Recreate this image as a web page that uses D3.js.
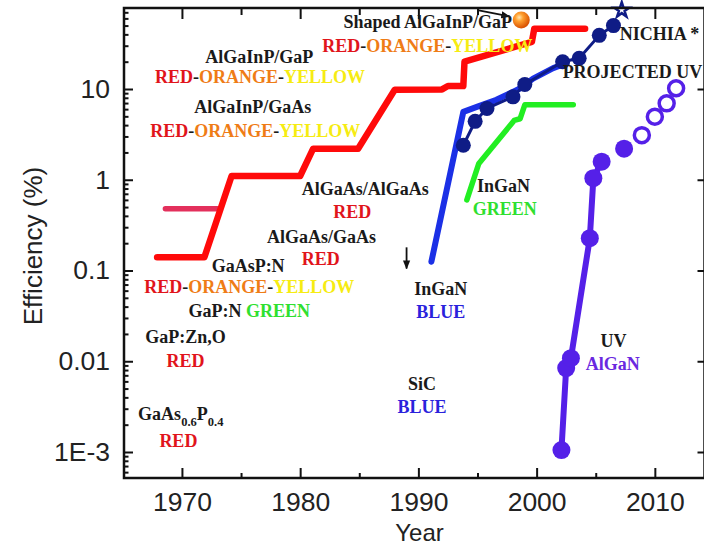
<!DOCTYPE html>
<html><head><meta charset="utf-8">
<script src="https://cdn.jsdelivr.net/npm/d3@7"></script>
<style>
html,body{margin:0;padding:0;background:#fff;}
svg{display:block;}
</style></head>
<body>
<svg id="chart" width="704" height="547"></svg>
<script>
// ---------------- data ----------------
const xTickYears = [1970, 1980, 1990, 2000, 2010];
const xMinorYears = [1975, 1985, 1995, 2005];
const yTickValues = [0.001, 0.01, 0.1, 1, 10];
const yTickLabels = ["1E-3", "0.01", "0.1", "1", "10"];

// AlGaAs / AlGaInP red-orange-yellow envelope
const redYears = [1967.9, 1971.9, 1974.2, 1980.0, 1981.1, 1984.9, 1988.0, 1992.0, 1992.5, 1993.8, 1993.9, 1999.6, 1999.8, 2004.1];
const redEff   = [0.14, 0.14, 1.1, 1.1, 2.2, 2.2, 9.8, 9.9, 10.8, 10.8, 20, 33, 46, 46];
// GaAsP short line
const pinkYears = [1968.6, 1973.0];
const pinkEff   = [0.48, 0.48];
// InGaN blue line
const blueYears = [1991.1, 1993.8, 1995.0, 1996.6, 1998.5, 1999.7, 2001.4, 2002.4];
const blueEff   = [0.125, 5.6, 6.4, 7.6, 10, 13, 17, 19];
// Nichia points
const nichiaYears = [1993.8, 1994.8, 1995.8, 1998.0, 1999.0, 2002.2, 2003.6, 2005.3, 2006.5];
const nichiaEff   = [2.4, 4.4, 6.1, 8.2, 11.2, 20, 21.8, 39, 50];
const nichiaStarYear = [2007.2];
const nichiaStarEff  = [74];
// InGaN green
const greenYears = [1994.1, 1995.1, 1998.1, 1998.6, 1999.0, 2003.1];
const greenEff   = [0.6, 1.5, 4.5, 4.7, 6.7, 6.7];
// UV AlGaN
const uvYears = [2002.1, 2002.5, 2002.9, 2004.5, 2004.8, 2005.5, 2007.4];
const uvEff   = [0.00105, 0.0084, 0.0108, 0.227, 1.04, 1.58, 2.2];
const uvLineCount = 6;
const projYears = [2008.9, 2010.0, 2011.0, 2011.8];
const projEff   = [3.1, 4.95, 6.95, 10.2];
// shaped AlGaInP/GaP point
const shapedYear = [1998.7];
const shapedEff  = [57.6];

// annotation texts: [year, efficiency, parts]
const RED = "#e1141b", ORG = "#ef7c16", YEL = "#f6ec12", GRN = "#2fe02f", BLU = "#2a22dc", PUR = "#6a28e0", BLK = "#1a1a1a";
const labels = [
  [1976.55, 19.3,  [["AlGaInP/GaP", BLK]]],
  [1976.6,  11.6,  [["RED", RED], ["-", BLK], ["ORANGE", ORG], ["-", BLK], ["YELLOW", YEL]]],
  [1976.0,  5.44,  [["AlGaInP/GaAs", BLK]]],
  [1976.2,  2.96,  [["RED", RED], ["-", BLK], ["ORANGE", ORG], ["-", BLK], ["YELLOW", YEL]]],
  [1990.8,  47,    [["Shaped AlGaInP/GaP", BLK]]],
  [1990.76, 25.6,  [["RED", RED], ["-", BLK], ["ORANGE", ORG], ["-", BLK], ["YELLOW", YEL]]],
  [1985.5,  0.679, [["AlGaAs/AlGaAs", BLK]]],
  [1984.4,  0.379, [["RED", RED]]],
  [1981.8,  0.201, [["AlGaAs/GaAs", BLK]]],
  [1981.75, 0.115, [["RED", RED]]],
  [1975.6,  0.0963,[["GaAsP:N", BLK]]],
  [1975.7,  0.0565,[["RED", RED], ["-", BLK], ["ORANGE", ORG], ["-", BLK], ["YELLOW", YEL]]],
  [1975.7,  0.0308,[["GaP:N ", BLK], ["GREEN", GRN]]],
  [1970.3,  0.0159,[["GaP:Zn,O", BLK]]],
  [1970.3,  0.00865,[["RED", RED]]],
  [1969.9,  0.002255,[["GaAs", BLK], ["0.6", BLK, "sub"], ["P", BLK], ["0.4", BLK, "sub"]]],
  [1969.7,  0.001135,[["RED", RED]]],
  [1991.9,  0.0537,[["InGaN", BLK]]],
  [1991.9,  0.030, [["BLUE", BLU]]],
  [1997.2,  0.733, [["InGaN", BLK]]],
  [1997.3,  0.409, [["GREEN", GRN]]],
  [1990.3,  0.00482,[["SiC", BLK]]],
  [1990.3,  0.00269,[["BLUE", BLU]]],
  [2006.5,  0.01435,[["UV", BLK]]],
  [2006.45, 0.00802,[["AlGaN", PUR]]]
];
const startLabels = [
  [2007.04, 34.7, [["NICHIA *", BLK]]],
  [2002.2,  13.2, [["PROJECTED UV", BLK]]]
];
// annotation arrows: [[yearFrom, effFrom],[yearTo, effTo]]
const arrows = [
  [[1995.0, 74], [1997.7, 63]],
  [[1989.0, 0.18], [1989.0, 0.105]]
];

// ---------------- layout ----------------
const svg = d3.select("#chart");
const x = d3.scaleLinear().domain([1965.1, 2014.2]).range([124, 704.5]);
const y = d3.scaleLog().domain([Math.pow(10, -3.2865), Math.pow(10, 1.8926)]).range([478, 8]);
const [x0, x1] = x.range();
const [yb, yt] = y.range();
const zip = (a, b) => a.map((v, i) => [v, b[i]]);
const line = d3.line().x(d => x(d[0])).y(d => y(d[1]));

const defs = svg.append("defs");
const grad = defs.append("radialGradient").attr("id", "ball").attr("cx", "38%").attr("cy", "35%").attr("r", "65%");
grad.append("stop").attr("offset", "0%").attr("stop-color", "#ffe6b0");
grad.append("stop").attr("offset", "35%").attr("stop-color", "#ffa030");
grad.append("stop").attr("offset", "100%").attr("stop-color", "#d85000");
defs.append("marker").attr("id", "ah").attr("viewBox", "0 0 10 10").attr("refX", 9).attr("refY", 5)
  .attr("markerWidth", 9).attr("markerHeight", 9).attr("markerUnits", "userSpaceOnUse").attr("orient", "auto")
  .append("path").attr("d", "M0,1 L10,5 L0,9 Z").attr("fill", "#111");

// ---------------- series ----------------
const plot = svg.append("g");
plot.append("path").datum(zip(pinkYears, pinkEff)).attr("d", line)
  .attr("fill", "none").attr("stroke", "#e3305c").attr("stroke-width", 5.5).attr("stroke-linecap", "round");
plot.append("path").datum(zip(redYears, redEff)).attr("d", line)
  .attr("fill", "none").attr("stroke", "#ff0a0a").attr("stroke-width", 6.5).attr("stroke-linecap", "round").attr("stroke-linejoin", "round");
plot.append("path").datum(zip(greenYears, greenEff)).attr("d", line)
  .attr("fill", "none").attr("stroke", "#22ee22").attr("stroke-width", 5.5).attr("stroke-linecap", "round").attr("stroke-linejoin", "round");
plot.append("path").datum(zip(blueYears, blueEff)).attr("d", line)
  .attr("fill", "none").attr("stroke", "#1b30e6").attr("stroke-width", 6).attr("stroke-linecap", "round").attr("stroke-linejoin", "round");
plot.append("path").datum(zip(nichiaYears, nichiaEff)).attr("d", line)
  .attr("fill", "none").attr("stroke", "#0f1c86").attr("stroke-width", 3).attr("stroke-linejoin", "round");
plot.selectAll(".nichia").data(zip(nichiaYears, nichiaEff)).join("circle")
  .attr("cx", d => x(d[0])).attr("cy", d => y(d[1])).attr("r", 7.5).attr("fill", "#0f1c86");
plot.selectAll(".star").data(zip(nichiaStarYear, nichiaStarEff)).join("path")
  .attr("transform", d => `translate(${x(d[0])},${y(d[1])})`)
  .attr("d", d3.symbol(d3.symbolStar, 70)).attr("fill", "#fff").attr("stroke", "#0f1c86").attr("stroke-width", 2.5);

plot.append("path").datum(zip(uvYears, uvEff).slice(0, uvLineCount)).attr("d", line)
  .attr("fill", "none").attr("stroke", "#5520e8").attr("stroke-width", 6).attr("stroke-linejoin", "round");
plot.selectAll(".uv").data(zip(uvYears, uvEff)).join("circle")
  .attr("cx", d => x(d[0])).attr("cy", d => y(d[1])).attr("r", 9).attr("fill", "#5520e8");
plot.selectAll(".proj").data(zip(projYears, projEff)).join("circle")
  .attr("cx", d => x(d[0])).attr("cy", d => y(d[1])).attr("r", 7.5).attr("fill", "#fff")
  .attr("stroke", "#5520e8").attr("stroke-width", 3.5);

plot.selectAll(".ball").data(zip(shapedYear, shapedEff)).join("circle")
  .attr("cx", d => x(d[0])).attr("cy", d => y(d[1])).attr("r", 8.5).attr("fill", "url(#ball)");

plot.selectAll(".arrow").data(arrows).join("line")
  .attr("x1", d => x(d[0][0])).attr("y1", d => y(d[0][1]))
  .attr("x2", d => x(d[1][0])).attr("y2", d => y(d[1][1]))
  .attr("stroke", "#111").attr("stroke-width", 1.8).attr("marker-end", "url(#ah)");

// ---------------- axes (drawn over the marks, like the frame) ----------------
const fontAxis = "'Liberation Sans', Arial, sans-serif";
function styleAxis(g) {
  g.select(".domain").remove();
  g.selectAll(".tick line").attr("stroke", "#111").attr("stroke-width", 2);
  g.selectAll(".tick text").attr("font-family", fontAxis).attr("font-size", 26.5).attr("fill", "#222");
}
svg.append("g").attr("transform", `translate(0,${yb})`)
  .call(d3.axisBottom(x).tickValues(xTickYears).tickFormat(d3.format("d")).tickSize(-10).tickPadding(14)).call(styleAxis);
svg.append("g").attr("transform", `translate(0,${yb})`)
  .call(d3.axisBottom(x).tickValues(xMinorYears).tickFormat("").tickSize(-5)).call(styleAxis);
svg.append("g").attr("transform", `translate(0,${yt})`)
  .call(d3.axisTop(x).tickValues(xTickYears).tickFormat("").tickSize(-11)).call(styleAxis);
svg.append("g").attr("transform", `translate(0,${yt})`)
  .call(d3.axisTop(x).tickValues(xMinorYears).tickFormat("").tickSize(-7)).call(styleAxis);

const yMinor = [];
for (let k = -4; k <= 1; k++) for (let m = 2; m <= 9; m++) {
  const v = m * Math.pow(10, k);
  if (v > y.domain()[0] && v < y.domain()[1]) yMinor.push(v);
}
svg.append("g").attr("transform", `translate(${x0},0)`)
  .call(d3.axisLeft(y).tickValues(yTickValues).tickFormat((d, i) => yTickLabels[i]).tickSize(-9).tickPadding(14)).call(styleAxis);
svg.append("g").attr("transform", `translate(${x0},0)`)
  .call(d3.axisLeft(y).tickValues(yMinor).tickFormat("").tickSize(-4.5)).call(styleAxis);
svg.append("g").attr("transform", `translate(${x1},0)`)
  .call(d3.axisRight(y).tickValues(yTickValues).tickFormat("").tickSize(-7)).call(styleAxis);

svg.append("rect").attr("x", x0).attr("y", yt).attr("width", x1 - x0).attr("height", yb - yt)
  .attr("fill", "none").attr("stroke", "#111").attr("stroke-width", 2.5);

svg.append("text").attr("x", x(1990.1)).attr("y", 541).attr("text-anchor", "middle")
  .attr("font-family", fontAxis).attr("font-size", 24).attr("fill", "#222").text("Year");
svg.append("text").attr("transform", `translate(42,${(yt + yb) / 2 + 3}) rotate(-90)`).attr("text-anchor", "middle")
  .attr("font-family", fontAxis).attr("font-size", 26).attr("fill", "#222").text("Efficiency (%)");

// ---------------- text labels ----------------
const fontLab = "'Liberation Serif', 'Times New Roman', serif";
function addLabel(d, anchor) {
  const t = svg.append("text").attr("x", x(d[0])).attr("y", y(d[1])).attr("text-anchor", anchor)
    .attr("font-family", fontLab).attr("font-weight", "bold").attr("font-size", 18);
  let shifted = false;
  d[2].forEach(p => {
    const ts = t.append("tspan").attr("fill", p[1]).text(p[0]);
    if (p[2] === "sub") { ts.attr("font-size", 12.5).attr("dy", shifted ? 0 : 6); shifted = true; }
    else if (shifted) { ts.attr("dy", -6); shifted = false; }
  });
}
labels.forEach(d => addLabel(d, "middle"));
startLabels.forEach(d => addLabel(d, "start"));
</script>
</body></html>
